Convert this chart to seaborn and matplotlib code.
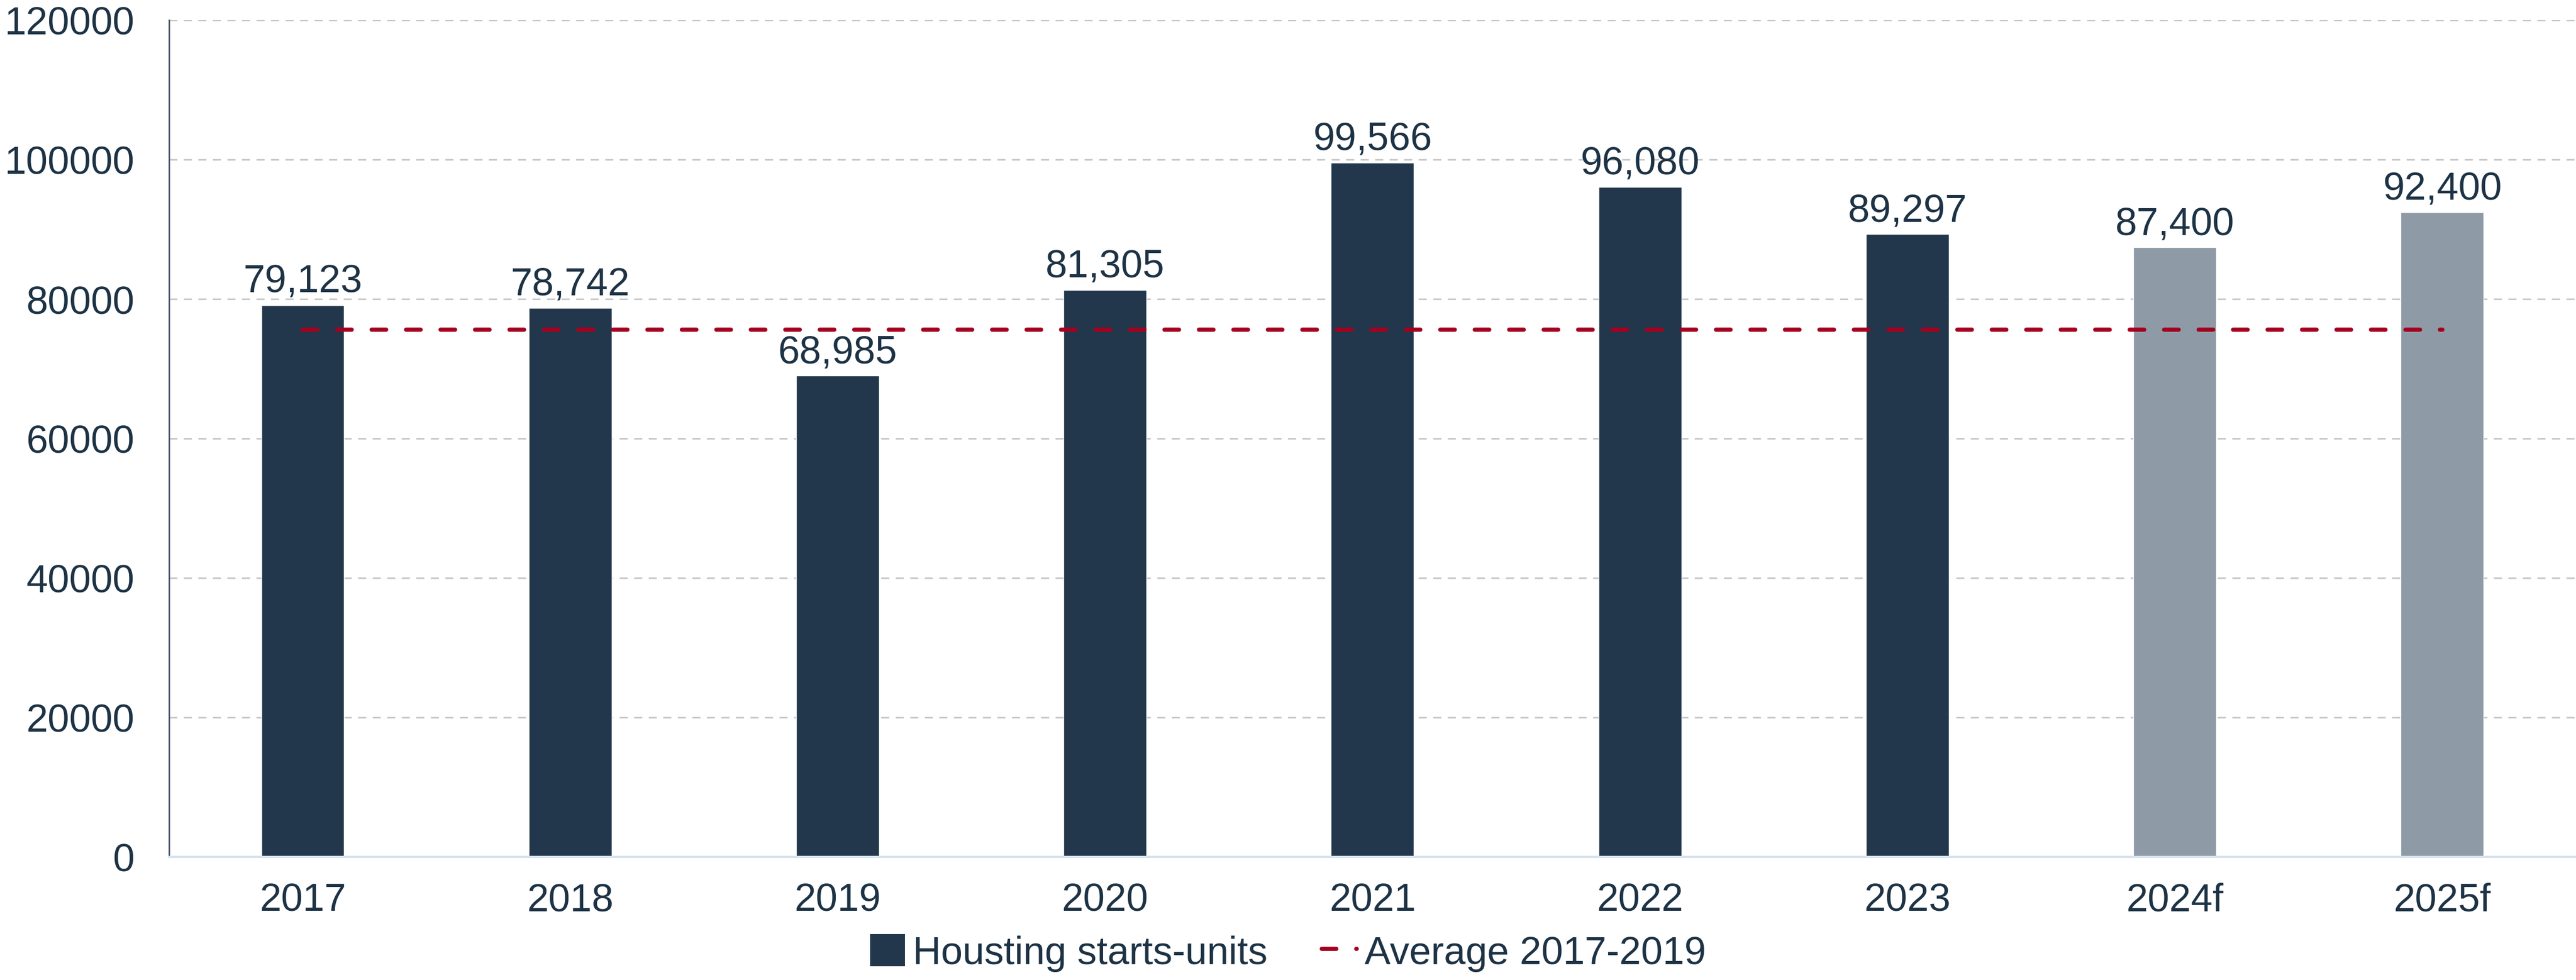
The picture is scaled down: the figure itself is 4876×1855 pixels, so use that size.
import numpy as np
import pandas as pd
import matplotlib
matplotlib.use("Agg")
import matplotlib.pyplot as plt
import seaborn as sns
from matplotlib.patches import Patch
from matplotlib.lines import Line2D

# data
years = ['2017', '2018', '2019', '2020', '2021', '2022', '2023', '2024f', '2025f']
starts = [79123, 78742, 68985, 81305, 99566, 96080, 89297, 87400, 92400]
forecast = [False, False, False, False, False, False, False, True, True]
avg_years = ['2017', '2018', '2019']

navy = '#22374b'
grey = '#8e9ba6'
red = '#a50021'
txt = '#1d3345'

df = pd.DataFrame({'year': years, 'starts': starts, 'forecast': forecast})
avg = df.loc[df['year'].isin(avg_years), 'starts'].mean()

sns.set_style('white')
plt.rcParams['font.family'] = ['Liberation Sans', 'DejaVu Sans']
plt.rcParams['font.size'] = 53

fig = plt.figure(figsize=(48.76, 18.56), dpi=100)
ax = fig.add_axes([0.0656, 0.1256, 0.9344, 0.8534])

pal = {y: (grey if f else navy) for y, f in zip(years, forecast)}
sns.barplot(data=df, x='year', y='starts', hue='year', palette=pal,
            legend=False, width=0.31, saturation=1, ax=ax)

for c in ax.containers:
    ax.bar_label(c, labels=[f'{v:,.0f}' for v in c.datavalues],
                 padding=7, fontsize=53, color=txt)

ax.plot([0, len(years) - 1], [avg, avg], color=red, lw=5.8,
        ls=(0, (3.4, 4.7)), dash_capstyle='round', zorder=3)

ax.set_xlim(-0.5, len(years) - 0.5)
ax.set_ylim(0, 120000)
ax.set_yticks(np.arange(0, 120001, 20000))
ax.set_yticklabels([str(v) for v in range(0, 120001, 20000)])
ax.yaxis.grid(True, color='#c8c8c8', lw=2.2, ls=(0, (5, 4)))
ax.set_axisbelow(True)
ax.set_xlabel('')
ax.set_ylabel('')
ax.tick_params(axis='x', length=0, pad=34, labelsize=53, labelcolor=txt)
ax.tick_params(axis='y', length=0, pad=47, labelsize=53, labelcolor=txt)

for s in ['top', 'right']:
    ax.spines[s].set_visible(False)
ax.spines['left'].set_color('#44546a')
ax.spines['left'].set_linewidth(2)
ax.spines['bottom'].set_color('#d6e3ef')
ax.spines['bottom'].set_linewidth(3)

handles = [Patch(facecolor=navy, edgecolor='none'),
           Line2D([0], [0], color=red, lw=5.8, ls=(0, (3.4, 4.7)),
                  dash_capstyle='round')]
leg = fig.legend(handles, ['Housting starts-units', 'Average 2017-2019'],
                 loc='center', bbox_to_anchor=(0.5, 0.028), ncol=2,
                 frameon=False, fontsize=53, handlelength=0.9,
                 handleheight=0.9, handletextpad=0.2, columnspacing=1.4)
for t in leg.get_texts():
    t.set_color(txt)

fig.savefig('out.png', dpi=100, facecolor='white')
